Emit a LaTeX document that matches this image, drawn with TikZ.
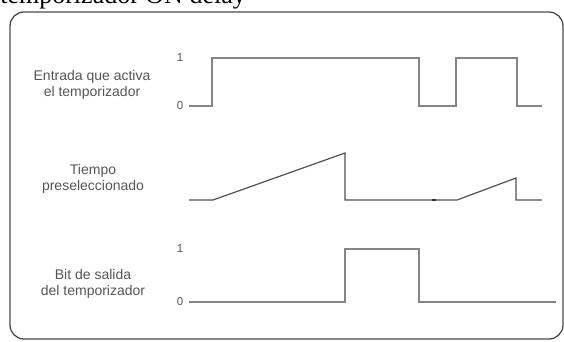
\documentclass[tikz,border=0pt]{standalone}
\usepackage{fontspec}
\setmainfont{Liberation Sans}
\newfontfamily\titlefont{Liberation Serif}
\usetikzlibrary{positioning}
\definecolor{tmrFrame}{HTML}{4a4a4a}
\definecolor{tmrWave}{HTML}{858585}
\definecolor{tmrRamp}{HTML}{505050}
\definecolor{tmrText}{HTML}{555555}
\tikzset{
  frame/.style={draw=tmrFrame, line width=1.3pt, rounded corners=14pt},
  wave/.style={draw=tmrWave, line width=2pt},
  ramp/.style={draw=tmrRamp, line width=1.2pt},
  sig/.style={font=\fontsize{14}{16.5}\selectfont, text=tmrText, align=center},
  lvl/.style={font=\fontsize{11.5}{13}\selectfont, text=tmrText, inner sep=0pt},
}

\begin{document}
\begin{tikzpicture}[x=1pt,y=-1pt]
  \useasboundingbox (0,0) rectangle (564,341);
  \node[font=\titlefont\fontsize{26}{28}\selectfont, anchor=base east, inner sep=0pt] (title) at (246,3) {temporizador ON delay};
  \draw[frame] (10,12) rectangle (563,339);
  % signal names
  \node[sig] (input) at (92,85) {Entrada que activa\\el temporizador};
  \node[sig] (preset) at (93,179) {Tiempo\\preseleccionado};
  \node[sig] (output) at (93,284) {Bit de salida\\del temporizador};
  % logic levels
  \foreach \n/\y/\t in {a/58/1, b/106/0, c/249/1, d/302/0}{
    \node[lvl] (lv\n) at (180,\y){\t};
  }
  % input signal
  \draw[wave] (189,106) -- (212,106) -- (212,58) -- (419,58) -- (419,106)
    -- (456,106) -- (456,58) -- (517,58) -- (517,106) -- (542,106);
  % elapsed time
  \draw[ramp] (189,200) -- (213,200) -- (345,153) -- (345,200) -- (457,200)
    -- (516,178) -- (516,200) -- (542,200);
  \draw[draw=black!80, line width=1.4pt] (432,200) -- (436,200);
  % timer output
  \draw[wave] (189,302) -- (345,302) -- (345,249) -- (419,249) -- (419,302) -- (556,302);
\end{tikzpicture}
\end{document}
